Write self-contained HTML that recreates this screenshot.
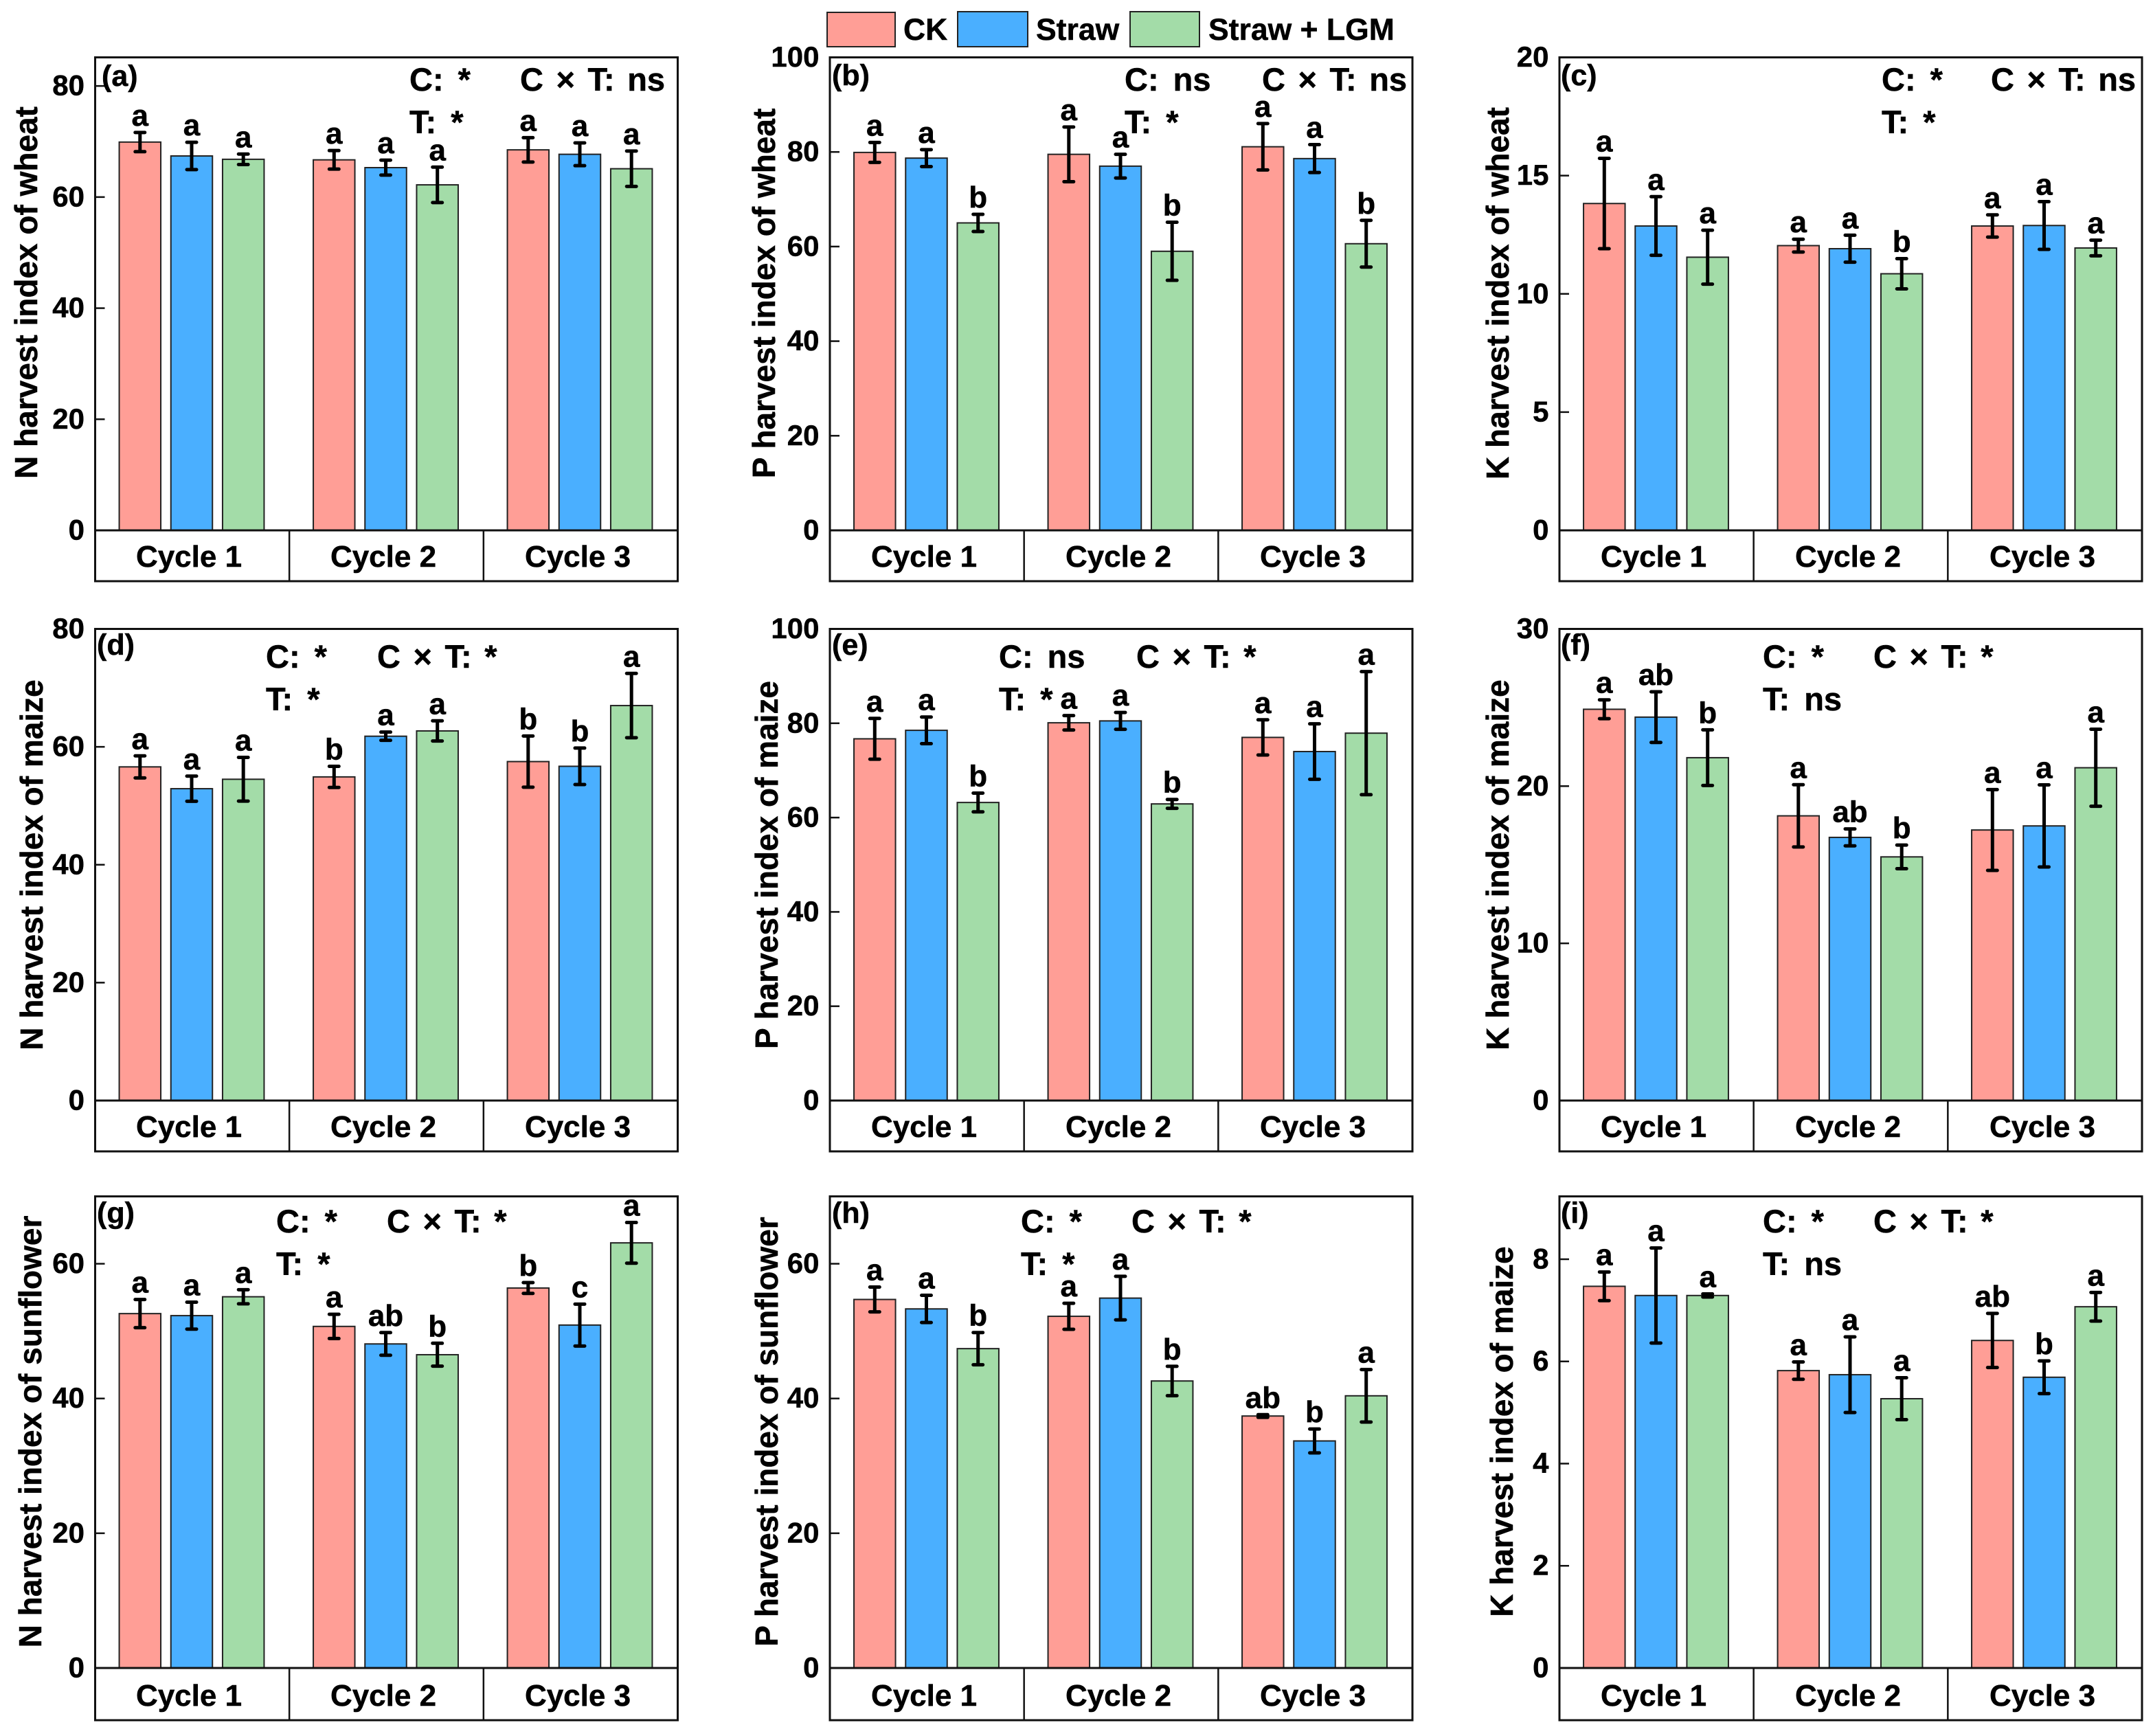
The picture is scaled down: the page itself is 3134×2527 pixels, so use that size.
<!DOCTYPE html>
<html lang="en">
<head>
<meta charset="utf-8">
<title>Harvest index of N, P and K for wheat, maize and sunflower</title>
<style>
  html, body { margin: 0; padding: 0; background: #fff; }
  svg { display: block; }
  text { font-family: "Liberation Sans", Arial, sans-serif; font-weight: bold; fill: #000; stroke: #000; stroke-width: 0.5px; }
  .title { font-size: 46px; text-anchor: middle; }
  .cycle { font-size: 44px; text-anchor: middle; }
  .tag { font-size: 43px; }
  .note { font-size: 47px; word-spacing: 8px; }
  .note-wide { font-size: 47px; word-spacing: 5.5px; }
  .legend-text { font-size: 44.5px; }
  .swatch { stroke: #222; stroke-width: 2; }
</style>
</head>
<body>
<svg id="figure" xmlns="http://www.w3.org/2000/svg" width="3134" height="2527" viewBox="0 0 3134 2527">
  <rect x="0" y="0" width="3134" height="2527" fill="#fff"/>
  <g id="marks"></g>

  <g>
    <g>
      <rect class="swatch" x="1204" y="18" width="99" height="50" fill="#FF9E96"/>
      <text class="legend-text" x="1315" y="58">CK</text>
    </g>
    <g>
      <rect class="swatch" x="1394" y="17" width="102" height="51" fill="#4AAFFF"/>
      <text class="legend-text" x="1508" y="58">Straw</text>
    </g>
    <g>
      <rect class="swatch" x="1645" y="17" width="101" height="51" fill="#A3DCA8"/>
      <text class="legend-text" x="1759" y="58">Straw + LGM</text>
    </g>
  </g>

  <!-- Panel a -->
  <g>
    <text class="title" transform="translate(54 426) rotate(-90)">N harvest index of wheat</text>
    <text class="tag" x="148" y="125">(a)</text>
    <text class="note" x="596" y="132">C: *</text>
    <text class="note" x="596" y="194">T: *</text>
    <text class="note-wide" x="757" y="132">C × T: ns</text>
    <text class="cycle" x="275" y="825">Cycle 1</text>
    <text class="cycle" x="558" y="825">Cycle 2</text>
    <text class="cycle" x="841" y="825">Cycle 3</text>
  </g>
  <!-- Panel b -->
  <g>
    <text class="title" transform="translate(1128 427) rotate(-90)">P harvest index of wheat</text>
    <text class="tag" x="1211" y="124">(b)</text>
    <text class="note" x="1637" y="132">C: ns</text>
    <text class="note" x="1637" y="194">T: *</text>
    <text class="note-wide" x="1837" y="132">C × T: ns</text>
    <text class="cycle" x="1345" y="825">Cycle 1</text>
    <text class="cycle" x="1628" y="825">Cycle 2</text>
    <text class="cycle" x="1911" y="825">Cycle 3</text>
  </g>
  <!-- Panel c -->
  <g>
    <text class="title" transform="translate(2196 427) rotate(-90)">K harvest index of wheat</text>
    <text class="tag" x="2272" y="124">(c)</text>
    <text class="note" x="2739" y="132">C: *</text>
    <text class="note" x="2739" y="194">T: *</text>
    <text class="note-wide" x="2898" y="132">C × T: ns</text>
    <text class="cycle" x="2407" y="825">Cycle 1</text>
    <text class="cycle" x="2690" y="825">Cycle 2</text>
    <text class="cycle" x="2973" y="825">Cycle 3</text>
  </g>
  <!-- Panel d -->
  <g>
    <text class="title" transform="translate(62 1259) rotate(-90)">N harvest index of maize</text>
    <text class="tag" x="141" y="953">(d)</text>
    <text class="note" x="387" y="972">C: *</text>
    <text class="note" x="387" y="1034">T: *</text>
    <text class="note-wide" x="549" y="972">C × T: *</text>
    <text class="cycle" x="275" y="1655">Cycle 1</text>
    <text class="cycle" x="558" y="1655">Cycle 2</text>
    <text class="cycle" x="841" y="1655">Cycle 3</text>
  </g>
  <!-- Panel e -->
  <g>
    <text class="title" transform="translate(1132 1259) rotate(-90)">P harvest index of maize</text>
    <text class="tag" x="1211" y="953">(e)</text>
    <text class="note" x="1454" y="972">C: ns</text>
    <text class="note" x="1454" y="1034">T: *</text>
    <text class="note-wide" x="1654" y="972">C × T: *</text>
    <text class="cycle" x="1345" y="1655">Cycle 1</text>
    <text class="cycle" x="1628" y="1655">Cycle 2</text>
    <text class="cycle" x="1911" y="1655">Cycle 3</text>
  </g>
  <!-- Panel f -->
  <g>
    <text class="title" transform="translate(2196 1259) rotate(-90)">K harvest index of maize</text>
    <text class="tag" x="2272" y="953">(f)</text>
    <text class="note" x="2566" y="972">C: *</text>
    <text class="note" x="2566" y="1034">T: ns</text>
    <text class="note-wide" x="2727" y="972">C × T: *</text>
    <text class="cycle" x="2407" y="1655">Cycle 1</text>
    <text class="cycle" x="2690" y="1655">Cycle 2</text>
    <text class="cycle" x="2973" y="1655">Cycle 3</text>
  </g>
  <!-- Panel g -->
  <g>
    <text class="title" transform="translate(60 2084) rotate(-90)">N harvest index of sunflower</text>
    <text class="tag" x="141" y="1780">(g)</text>
    <text class="note" x="402" y="1794">C: *</text>
    <text class="note" x="402" y="1856">T: *</text>
    <text class="note-wide" x="563" y="1794">C × T: *</text>
    <text class="cycle" x="275" y="2483">Cycle 1</text>
    <text class="cycle" x="558" y="2483">Cycle 2</text>
    <text class="cycle" x="841" y="2483">Cycle 3</text>
  </g>
  <!-- Panel h -->
  <g>
    <text class="title" transform="translate(1132 2084) rotate(-90)">P harvest index of sunflower</text>
    <text class="tag" x="1211" y="1780">(h)</text>
    <text class="note" x="1486" y="1794">C: *</text>
    <text class="note" x="1486" y="1856">T: *</text>
    <text class="note-wide" x="1647" y="1794">C × T: *</text>
    <text class="cycle" x="1345" y="2483">Cycle 1</text>
    <text class="cycle" x="1628" y="2483">Cycle 2</text>
    <text class="cycle" x="1911" y="2483">Cycle 3</text>
  </g>
  <!-- Panel i -->
  <g>
    <text class="title" transform="translate(2202 2084) rotate(-90)">K harvest index of maize</text>
    <text class="tag" x="2272" y="1780">(i)</text>
    <text class="note" x="2566" y="1794">C: *</text>
    <text class="note" x="2566" y="1856">T: ns</text>
    <text class="note-wide" x="2727" y="1794">C × T: *</text>
    <text class="cycle" x="2407" y="2483">Cycle 1</text>
    <text class="cycle" x="2690" y="2483">Cycle 2</text>
    <text class="cycle" x="2973" y="2483">Cycle 3</text>
  </g>
</svg>

<script>
// Series order in every array: Cycle 1 (CK, Straw, Straw + LGM), Cycle 2 (...), Cycle 3 (...)
const valuesA = [69.9, 67.4, 66.8, 66.7, 65.3, 62.2, 68.5, 67.7, 65.1];
const errorsA = [1.73, 2.46, 0.94, 1.67, 1.35, 3.19, 2.19, 2.05, 3.19];
const lettersA = ['a','a','a','a','a','a','a','a','a'];
const ticksA = [0, 20, 40, 60, 80];

const valuesB = [79.9, 78.7, 65.0, 79.5, 77.0, 59.0, 81.1, 78.6, 60.6];
const errorsB = [2.11, 1.79, 1.82, 5.78, 2.5, 6.14, 4.9, 2.95, 4.94];
const lettersB = ['a','a','b','a','a','b','a','a','b'];
const ticksB = [0, 20, 40, 60, 80, 100];

const valuesC = [13.82, 12.87, 11.55, 12.04, 11.91, 10.85, 12.87, 12.89, 11.94];
const errorsC = [1.91, 1.24, 1.14, 0.27, 0.57, 0.64, 0.47, 1.01, 0.33];
const lettersC = ['a','a','a','a','a','b','a','a','a'];
const ticksC = [0, 5, 10, 15, 20];

const valuesD = [56.6, 52.9, 54.5, 54.9, 61.8, 62.7, 57.5, 56.7, 67.0];
const errorsD = [1.87, 2.13, 3.71, 1.79, 0.70, 1.71, 4.34, 3.09, 5.45];
const lettersD = ['a','a','a','b','a','a','b','b','a'];
const ticksD = [0, 20, 40, 60, 80];

const valuesE = [76.7, 78.5, 63.2, 80.1, 80.5, 62.9, 77.0, 74.0, 77.9];
const errorsE = [4.32, 2.82, 1.98, 1.53, 1.79, 0.94, 3.73, 5.88, 13.05];
const lettersE = ['a','a','b','a','a','b','a','a','a'];
const ticksE = [0, 20, 40, 60, 80, 100];

const valuesF = [24.89, 24.39, 21.81, 18.11, 16.74, 15.5, 17.21, 17.47, 21.17];
const errorsF = [0.60, 1.61, 1.77, 1.98, 0.54, 0.75, 2.57, 2.61, 2.45];
const lettersF = ['a','ab','b','a','ab','b','a','a','a'];
const ticksF = [0, 10, 20, 30];

const valuesG = [52.6, 52.3, 55.1, 50.7, 48.1, 46.5, 56.4, 50.9, 63.1];
const errorsG = [2.09, 2.0, 1.05, 1.8, 1.68, 1.7, 0.8, 3.11, 3.02];
const lettersG = ['a','a','a','a','ab','b','b','c','a'];
const ticksG = [0, 20, 40, 60];

const valuesH = [54.7, 53.3, 47.4, 52.2, 54.9, 42.6, 37.4, 33.7, 40.4];
const errorsH = [1.84, 2.02, 2.39, 1.93, 3.23, 2.18, 0.2, 1.77, 3.89];
const lettersH = ['a','a','b','a','a','b','ab','b','a'];
const ticksH = [0, 20, 40, 60];

const valuesI = [7.47, 7.29, 7.29, 5.82, 5.74, 5.27, 6.41, 5.69, 7.07];
const errorsI = [0.28, 0.93, 0.03, 0.17, 0.74, 0.41, 0.53, 0.32, 0.28];
const lettersI = ['a','a','a','a','a','a','ab','b','a'];
const ticksI = [0, 2, 4, 6, 8];

// Layout (separate from the data above)
const NS = 'http://www.w3.org/2000/svg';
const fills = ['#FF9E96', '#4AAFFF', '#A3DCA8'];
const columnLeft = [138.5, 1208, 2270];
const rowTop = [83.5, 915.5, 1741.5];
const rowZero = [772, 1602, 2428];
const rowBottom = [846, 1676, 2504];
const panelWidth = 848;
const barWidth = 60.5;
const groupPitch = 282.5;
const barPitch = 75.2;

const panels = [
  { col: 0, row: 0, max: 85.15, values: valuesA, errors: errorsA, letters: lettersA, ticks: ticksA },
  { col: 1, row: 0, max: 100, values: valuesB, errors: errorsB, letters: lettersB, ticks: ticksB },
  { col: 2, row: 0, max: 20, values: valuesC, errors: errorsC, letters: lettersC, ticks: ticksC },
  { col: 0, row: 1, max: 80, values: valuesD, errors: errorsD, letters: lettersD, ticks: ticksD },
  { col: 1, row: 1, max: 100, values: valuesE, errors: errorsE, letters: lettersE, ticks: ticksE },
  { col: 2, row: 1, max: 30, values: valuesF, errors: errorsF, letters: lettersF, ticks: ticksF },
  { col: 0, row: 2, max: 70, values: valuesG, errors: errorsG, letters: lettersG, ticks: ticksG },
  { col: 1, row: 2, max: 70, values: valuesH, errors: errorsH, letters: lettersH, ticks: ticksH },
  { col: 2, row: 2, max: 9.23, values: valuesI, errors: errorsI, letters: lettersI, ticks: ticksI }
];

const root = document.getElementById('marks');

function make(tag, attrs, parent) {
  const node = document.createElementNS(NS, tag);
  for (const key in attrs) node.setAttribute(key, attrs[key]);
  parent.appendChild(node);
  return node;
}

function xAxis(panel, index) {
  const group = Math.floor(index / 3);
  const series = index % 3;
  return columnLeft[panel.col] + 140.5 + groupPitch * group + barPitch * (series - 1);
}

function yAxis(panel, value) {
  const zero = rowZero[panel.row];
  return zero - value * (zero - rowTop[panel.row]) / panel.max;
}

panels.forEach(function (panel) {
  const left = columnLeft[panel.col];
  const right = left + panelWidth;
  const top = rowTop[panel.row];
  const zero = rowZero[panel.row];
  const bottom = rowBottom[panel.row];

  const g = make('g', {}, root);
  
  

  panel.values.forEach(function (value, i) {
    const cx = xAxis(panel, i);
    const yTop = yAxis(panel, value);

    const bar = make('rect', { x: cx - barWidth / 2, y: yTop, width: barWidth, height: zero - yTop, fill: fills[i % 3], stroke: '#222', 'stroke-width': 2 }, g);
    
    

    const hi = yAxis(panel, value + panel.errors[i]);
    const lo = yAxis(panel, value - panel.errors[i]);
    const path = 'M' + cx + ' ' + hi + 'V' + lo + 'M' + (cx - 7) + ' ' + hi + 'H' + (cx + 7) + 'M' + (cx - 7) + ' ' + lo + 'H' + (cx + 7);
    const err = make('path', { d: path, fill: 'none', stroke: '#000', 'stroke-width': 5, 'stroke-linecap': 'round' }, g);
    
    

    const letter = make('text', { x: cx, y: hi - 10, 'text-anchor': 'middle', 'font-size': 44 }, g);
    
    
    letter.textContent = panel.letters[i];
  });

  const frame = make('rect', { x: left, y: top, width: panelWidth, height: bottom - top, fill: 'none', stroke: '#111', 'stroke-width': 3 }, g);
  
  

  const baseline = make('line', { x1: left, x2: right, y1: zero, y2: zero, stroke: '#111', 'stroke-width': 3 }, g);
  
  

  [1, 2].forEach(function (k) {
    const sx = left + k * panelWidth / 3;
    const sep = make('line', { x1: sx, x2: sx, y1: zero, y2: bottom, stroke: '#111', 'stroke-width': 2.5 }, g);
    
    
  });

  panel.ticks.forEach(function (tick) {
    const ty = yAxis(panel, tick);
    const mark = make('line', { x1: left, x2: left + 14, y1: ty, y2: ty, stroke: '#111', 'stroke-width': 2.5 }, g);
    
    

    const label = make('text', { x: left - 15.5, y: ty + 13.5, 'text-anchor': 'end', 'font-size': 42 }, g);
    
    
    label.textContent = String(tick);
  });
});
</script>
</body>
</html>
